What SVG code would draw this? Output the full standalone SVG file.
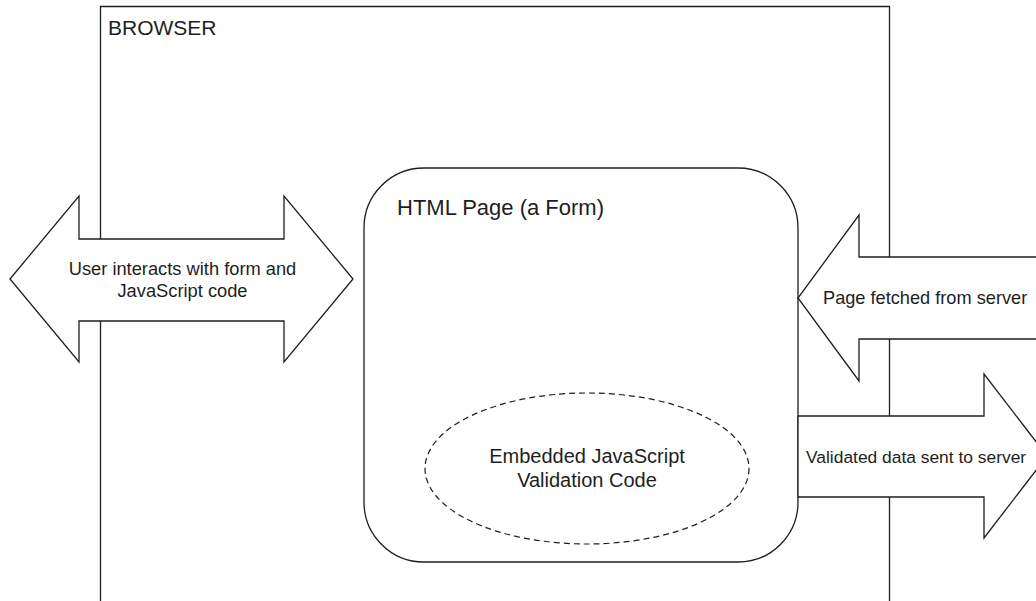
<svg xmlns="http://www.w3.org/2000/svg" width="1036" height="601" viewBox="0 0 1036 601">
<style>
.ln{fill:none;stroke:#1e1e1e;stroke-width:1.3}
.box{fill:#ffffff;stroke:#1e1e1e;stroke-width:1.3}
.dash{fill:none;stroke:#1e1e1e;stroke-width:1.2;stroke-dasharray:6 4}
.t{font-family:"Liberation Sans",Arial,sans-serif;fill:#1e1e1e}
</style>
<rect width="1036" height="601" fill="#ffffff"/>
<g id="browser">
<path class="ln" d="M100.5,601 V6.5 H889.5 V601"/>
<text class="t" x="108" y="35" font-size="21">BROWSER</text>
</g>
<g id="html-page">
<rect class="box" x="364" y="168" width="434" height="394" rx="60" ry="60"/>
<text class="t" x="397" y="215" font-size="22">HTML Page (a Form)</text>
</g>
<g id="validation-code">
<ellipse class="dash" cx="587" cy="468.5" rx="162" ry="75.5"/>
<text class="t" x="587" y="463" font-size="20" text-anchor="middle">Embedded JavaScript</text>
<text class="t" x="587" y="487" font-size="20" text-anchor="middle">Validation Code</text>
</g>
<g id="connectors">
<g id="user-interaction">
<path class="box" d="M10,279 L79,196 V239 H284 V196 L353,279 L284,362 V321 H79 V362 Z"/>
<text class="t" x="182.5" y="275" font-size="18.3" text-anchor="middle">User interacts with form and</text>
<text class="t" x="182.5" y="297" font-size="18.3" text-anchor="middle">JavaScript code</text>
</g>
<g id="page-fetch">
<path class="box" d="M1040,257 H859 V215 L798,298 L859,381 V339 H1040"/>
<text class="t" x="823" y="304" font-size="18.2">Page fetched from server</text>
</g>
<g id="data-sent">
<path class="box" d="M798,416 H984 V374 L1047,456 L984,538 V497 H798 Z"/>
<text class="t" x="806" y="463" font-size="17.4">Validated data sent to server</text>
</g>
</g>
</svg>
